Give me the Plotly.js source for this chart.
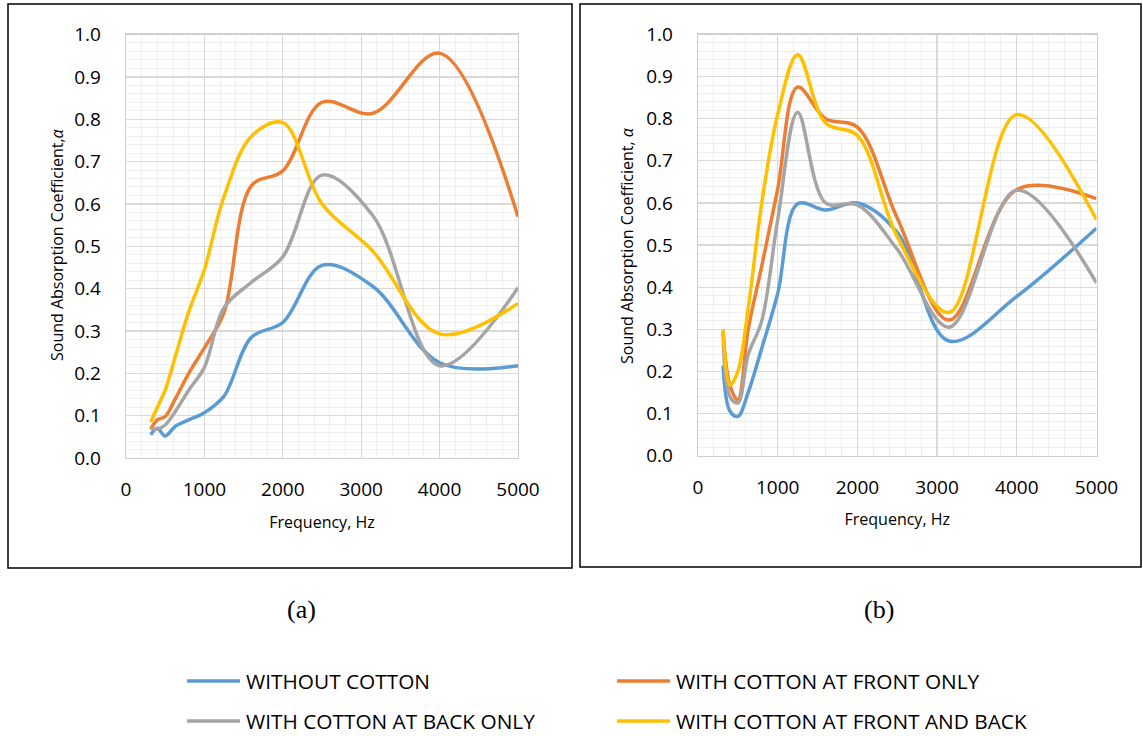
<!DOCTYPE html>
<html>
<head>
<meta charset="utf-8">
<script src="https://cdn.plot.ly/plotly-3.0.1.min.js"></script>
<style>
html,body{margin:0;padding:0;background:#fff;}
#chart{width:1143px;height:736px;}
</style>
</head>
<body>
<div id="chart"></div>
<script>
// Frequencies (Hz), 1/3 octave bands
const freq = [315, 400, 500, 630, 800, 1000, 1250, 1600, 2000, 2500, 3150, 4000, 5000];

const seriesNames = [
  "WITHOUT COTTON",
  "WITH COTTON AT FRONT ONLY",
  "WITH COTTON AT BACK ONLY",
  "WITH COTTON AT FRONT AND BACK"
];
const seriesColors = ["#5B9BD5", "#ED7D31", "#A5A5A5", "#FFC000"];

// Panel (a)
const a_without   = [0.055, 0.070, 0.052, 0.075, 0.090, 0.107, 0.146, 0.285, 0.320, 0.455, 0.405, 0.225, 0.218];
const a_front     = [0.068, 0.090, 0.098, 0.140, 0.200, 0.260, 0.343, 0.643, 0.678, 0.840, 0.814, 0.956, 0.570];
const a_back      = [0.070, 0.068, 0.078, 0.110, 0.160, 0.214, 0.355, 0.415, 0.475, 0.668, 0.572, 0.218, 0.402];
const a_frontback = [0.085, 0.120, 0.160, 0.240, 0.345, 0.445, 0.617, 0.760, 0.792, 0.600, 0.488, 0.293, 0.365];

// Panel (b)
const b_without   = [0.214, 0.106, 0.093, 0.150, 0.255, 0.385, 0.598, 0.583, 0.600, 0.530, 0.272, 0.378, 0.540];
const b_front     = [0.295, 0.167, 0.132, 0.300, 0.450, 0.633, 0.875, 0.800, 0.780, 0.564, 0.322, 0.632, 0.610];
const b_back      = [0.290, 0.140, 0.125, 0.240, 0.320, 0.560, 0.815, 0.600, 0.595, 0.490, 0.305, 0.630, 0.410];
const b_frontback = [0.300, 0.167, 0.200, 0.350, 0.600, 0.810, 0.952, 0.790, 0.760, 0.520, 0.340, 0.810, 0.560];

const panelA = [a_without, a_front, a_back, a_frontback];
const panelB = [b_without, b_front, b_back, b_frontback];

const FONT = "Open Sans, Lato, sans-serif";
const traces = [];
panelA.forEach((vals, i) => {
  traces.push({x: freq, y: vals, xaxis: "x", yaxis: "y", type: "scatter", mode: "lines",
    name: seriesNames[i], showlegend: false, hoverinfo: "x+y",
    line: {color: seriesColors[i], width: 3.5, shape: "spline", smoothing: 1}});
});
panelB.forEach((vals, i) => {
  traces.push({x: freq, y: vals, xaxis: "x2", yaxis: "y2", type: "scatter", mode: "lines",
    name: seriesNames[i], showlegend: false, hoverinfo: "x+y",
    line: {color: seriesColors[i], width: 3.5, shape: "spline", smoothing: 1}});
});

function xAxis(domain, anchor) {
  return {
    domain: domain, anchor: anchor, range: [0, 5000], dtick: 1000, tick0: 0,
    showgrid: true, gridcolor: "#d9d9d9", gridwidth: 1.3,
    minor: {dtick: 200, showgrid: true, gridcolor: "#efefef", gridwidth: 1},
    showline: true, linecolor: "#cfcfcf", linewidth: 1.3, mirror: true,
    zeroline: false, ticks: "", ticklabelstandoff: 14,
    tickfont: {family: FONT, size: 19, color: "#000"},
    title: {text: "Frequency, Hz", font: {family: FONT, size: 16, color: "#000"}, standoff: 15},
    fixedrange: true
  };
}
function yAxis(domain, anchor) {
  return {
    domain: domain, anchor: anchor, range: [0, 1], dtick: 0.1, tick0: 0, tickformat: ".1f",
    showgrid: true, gridcolor: "#d9d9d9", gridwidth: 1.3,
    minor: {dtick: 0.02, showgrid: true, gridcolor: "#efefef", gridwidth: 1},
    showline: true, linecolor: "#cfcfcf", linewidth: 1.3, mirror: true,
    zeroline: false, ticks: "", ticklabelstandoff: 20,
    tickfont: {family: FONT, size: 19, color: "#000"},
    fixedrange: true
  };
}

const W = 1143, H = 736;
const px = v => v / W;
const py = v => 1 - v / H;

const shapes = [
  {type: "rect", xref: "paper", yref: "paper", x0: px(8), x1: px(572), y0: py(568), y1: py(4),
   line: {color: "#000", width: 1.5}, fillcolor: "rgba(0,0,0,0)", layer: "below"},
  {type: "rect", xref: "paper", yref: "paper", x0: px(580), x1: px(1141), y0: py(567), y1: py(4),
   line: {color: "#000", width: 1.5}, fillcolor: "rgba(0,0,0,0)", layer: "below"}
];
const annotations = [
  {text: "(a)", xref: "paper", yref: "paper", x: px(301), y: py(609), xanchor: "center", yanchor: "middle",
   showarrow: false, font: {family: "Liberation Serif, Times New Roman, serif", size: 26, color: "#000"}},
  {text: "(b)", xref: "paper", yref: "paper", x: px(879), y: py(609), xanchor: "center", yanchor: "middle",
   showarrow: false, font: {family: "Liberation Serif, Times New Roman, serif", size: 26, color: "#000"}},
  {text: "Sound Absorption Coefficient,<i>α</i>", xref: "paper", yref: "paper",
   x: px(57), y: py(245), xanchor: "center", yanchor: "middle", textangle: -90, showarrow: false,
   font: {family: FONT, size: 16, color: "#000"}},
  {text: "Sound Absorption Coefficient, <i>α</i>", xref: "paper", yref: "paper",
   x: px(627), y: py(246), xanchor: "center", yanchor: "middle", textangle: -90, showarrow: false,
   font: {family: FONT, size: 16, color: "#000"}}
];

// Manual legend (2 columns)
const legendPos = [
  {lx0: 187, lx1: 240, y: 681},
  {lx0: 617, lx1: 670, y: 681},
  {lx0: 187, lx1: 240, y: 721},
  {lx0: 617, lx1: 670, y: 721}
];
seriesNames.forEach((nm, i) => {
  const p = legendPos[i];
  shapes.push({type: "line", xref: "paper", yref: "paper", x0: px(p.lx0), x1: px(p.lx1),
    y0: py(p.y), y1: py(p.y), line: {color: seriesColors[i], width: 3.5}});
  annotations.push({text: nm, xref: "paper", yref: "paper", x: px(p.lx1 + 4), y: py(p.y),
    xanchor: "left", yanchor: "middle", showarrow: false,
    font: {family: FONT, size: 20.8, color: "#000"}});
});

const layout = {
  width: W, height: H,
  margin: {l: 0, r: 0, t: 0, b: 0},
  paper_bgcolor: "#fff", plot_bgcolor: "#fff",
  showlegend: false,
  xaxis: xAxis([px(126), px(518)], "y"),
  yaxis: yAxis([py(458), py(34.5)], "x"),
  xaxis2: xAxis([px(698), px(1096.5)], "y2"),
  yaxis2: yAxis([py(455.6), py(34.5)], "x2"),
  shapes: shapes,
  annotations: annotations
};

Plotly.newPlot("chart", traces, layout, {displayModeBar: false, staticPlot: true});
</script>
</body>
</html>
